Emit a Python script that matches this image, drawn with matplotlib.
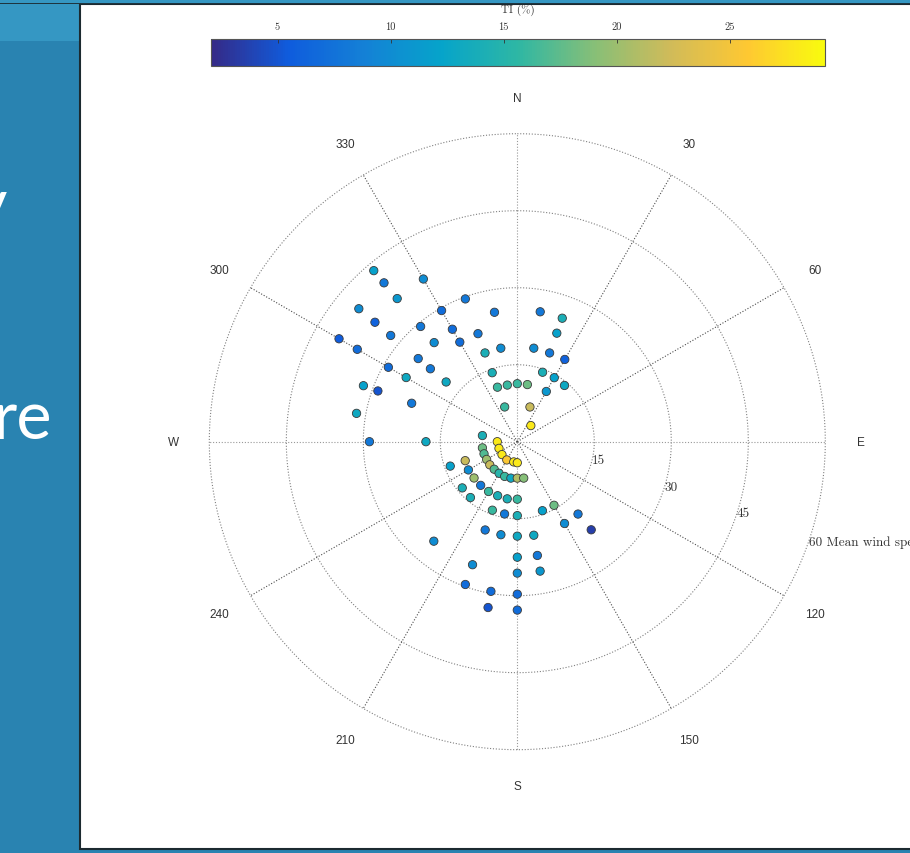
import numpy as np
import matplotlib.pyplot as plt
from matplotlib.colors import LinearSegmentedColormap
from matplotlib.patches import Rectangle

# wind direction (deg, clockwise from north), mean wind speed, turbulence intensity (%)
direction = [320, 320, 330, 320, 310, 310, 340, 330, 350, 10,
             20, 300, 310, 320, 330, 340, 20, 300, 320, 330,
             340, 350, 10, 20, 30, 310, 300, 310, 340, 20,
             300, 30, 290, 290, 310, 340, 350, 0, 10, 40,
             30, 290, 280, 340, 20, 40, 270, 270, 280, 270,
             260, 250, 230, 250, 210, 190, 180, 240, 250, 250,
             240, 230, 220, 210, 200, 190, 180, 170, 230, 220,
             230, 210, 220, 200, 190, 180, 150, 200, 190, 180,
             160, 140, 150, 140, 200, 190, 180, 170, 220, 180,
             170, 200, 180, 170, 200, 190, 180, 190, 180]
speed = [43.5, 40.4, 36.6, 36.4, 40.3, 36.2, 29.6, 29.5, 25.6, 25.7,
         25.6, 40.1, 32.2, 29.3, 25.3, 22.4, 22.5, 36.0, 25.2, 22.4,
         18.4, 18.5, 18.5, 18.4, 18.5, 25.2, 29.0, 22.1, 14.3, 14.4,
         25.0, 14.4, 31.9, 28.9, 18.1, 11.3, 11.2, 11.3, 11.3, 14.3,
         11.3, 21.9, 31.8, 7.2, 7.2, 4.1, 28.8, 17.8, 6.9, 3.9,
         6.9, 3.8, 3.9, 6.9, 4.1, 4.0, 4.1, 6.9, 10.8, 13.9,
         11.0, 7.0, 7.0, 7.1, 7.2, 7.2, 7.1, 7.2, 11.0, 11.1,
         14.0, 11.2, 14.2, 11.2, 11.3, 11.2, 14.3, 14.2, 14.3, 14.4,
         14.3, 18.4, 18.4, 22.4, 18.3, 18.4, 18.4, 18.5, 25.3, 22.5,
         22.5, 25.5, 25.6, 25.6, 29.6, 29.6, 29.7, 32.8, 32.8]
ti = [12, 8, 10, 11, 10, 6, 8, 7, 8, 8,
      14, 5.5, 8, 8, 7, 8, 12, 7, 10, 7,
      14, 10, 10, 8, 6, 8, 7, 8, 14, 14,
      13, 12, 12, 5, 13, 16, 16, 16, 18, 13,
      11, 8, 13, 16, 22, 28, 8, 13, 14, 28,
      18, 28, 28, 17, 25.5, 28, 28, 20, 22, 12,
      10, 22, 17, 15, 16, 13, 21, 19, 20, 8,
      14, 16, 14, 14, 14, 16, 18, 16, 8, 14,
      12, 8, 10, 3.5, 8, 10, 13, 13, 10, 12,
      8, 10, 10, 11, 7, 7, 7, 5, 7]

rings = [15, 30, 45, 60]
ring_labels = ['15', '30', '45', '60 Mean wind speed']
compass = list(range(0, 360, 30))
compass_labels = ['N', '30', '60', 'E', '120', '150', 'S', '210', '240', 'W', '300', '330']
cbar_ticks = [5, 10, 15, 20, 25]
ti_min, ti_max = 2.06, 29.2

# parula-like colormap
parula = LinearSegmentedColormap.from_list('parula', [
    '#352A87', '#0F5CDD', '#1481D6', '#06A4CA', '#2EB7A4',
    '#87BF77', '#D1BB59', '#FEC832', '#F9FB0E'])

W, H = 910, 854
fig = plt.figure(figsize=(W / 100, H / 100), dpi=100, facecolor='#2983b1')

# slide background bits
fig.patches.append(Rectangle((0, 1 - 42 / H), 1, 42 / H, transform=fig.transFigure,
                             facecolor='#3597c3', edgecolor='none', zorder=-3))
fig.text(7 / W, 1 - 226 / H, 'y', ha='right', va='baseline', fontsize=48,
         color='white', family='Lato', zorder=-2)
fig.text(52 / W, 1 - 439 / H, 're', ha='right', va='baseline', fontsize=48,
         color='white', family='Lato', zorder=-2)
fig.patches.append(Rectangle((80 / W, 1 - 850 / H), 1, (850 - 5) / H, transform=fig.transFigure,
                             facecolor='white', edgecolor='#1c2a30', linewidth=1.5, zorder=-1))

# polar axes
cx, cy, rad = 517.3, 442.7, 308
ax = fig.add_axes([(cx - rad) / W, (H - cy - rad) / H, 2 * rad / W, 2 * rad / H],
                  projection='polar')
ax.set_theta_zero_location('N')
ax.set_theta_direction(-1)
ax.set_ylim(0, 60)
ax.axis('off')

full = np.linspace(0, 2 * np.pi, 721)
for r in rings:
    ax.plot(full, np.full_like(full, r), color='0.5', lw=0.8,
            linestyle=(0, (1, 1.6)), clip_on=False, zorder=1)
for a in compass:
    col = '0.6' if a % 90 == 0 else '0.3'
    ax.plot([np.radians(a)] * 2, [0, 60], color=col, lw=0.8,
            linestyle=(0, (1, 1.6)), clip_on=False, zorder=1)

for a, lab in zip(compass, compass_labels):
    ax.text(np.radians(a), 67, lab, ha='center', va='center', fontsize=8.5,
            color='#333333', family='Liberation Sans')

label_angles = [104, 107, 108, 109]
for r, lab, a in zip(rings, ring_labels, label_angles):
    ax.text(np.radians(a), r, lab, ha='left', va='center', fontsize=9.5,
            color='#333333', family='cmr10', clip_on=False)

sc = ax.scatter(np.radians(direction), speed, c=ti, cmap=parula, vmin=ti_min, vmax=ti_max,
                s=36, edgecolors='#3a3a3a', linewidths=0.6, zorder=3, clip_on=False)

# colorbar on top
cax = fig.add_axes([211 / W, (H - 67) / H, 614 / W, 27 / H])
cb = fig.colorbar(sc, cax=cax, orientation='horizontal')
cb.set_ticks(cbar_ticks)
cax.xaxis.set_ticks_position('top')
cax.xaxis.set_label_position('top')
cax.tick_params(direction='in', length=3, width=0.6, pad=6, labelsize=7.5, colors='#333333')
for t in cax.get_xticklabels():
    t.set_family('cmr10')
cb.outline.set_edgecolor('#555555')
cb.outline.set_linewidth(0.8)
cb.set_label('TI (%)', fontsize=8, family='cmr10', color='#333333', labelpad=7)

# strip of slide background over the top edge of the figure panel
top = fig.add_axes([0, 1 - 5 / H, 1, 5 / H], zorder=10)
top.set_facecolor('#3597c3')
top.set_xticks([])
top.set_yticks([])
for s in top.spines.values():
    s.set_visible(False)
top.axhline(0, color='#1c2a30', lw=2)

fig.savefig('out.png', dpi=100, facecolor=fig.get_facecolor())
